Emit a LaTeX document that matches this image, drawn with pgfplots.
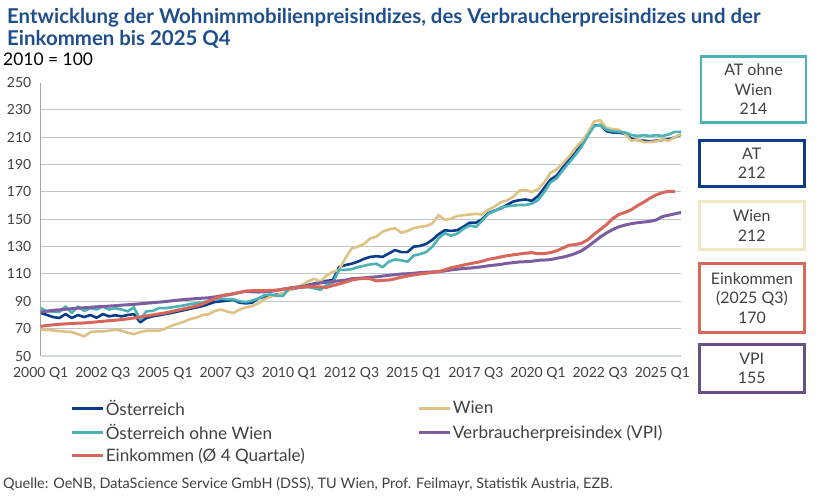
\documentclass[border=0pt]{standalone}
\usepackage{pgfplots}
\usepackage{pgfplotstable}
\pgfplotsset{compat=1.18}
\usepackage{fontspec}
\setmainfont{Lato}

\definecolor{titleblue}{RGB}{31,78,141}
\definecolor{textgray}{RGB}{64,64,64}
\definecolor{gridgray}{RGB}{190,198,204}
\definecolor{axisgray}{RGB}{166,166,166}
\definecolor{atblue}{RGB}{10,60,140}
\definecolor{wientan}{RGB}{222,194,132}
\definecolor{wienbox}{RGB}{243,230,196}
\definecolor{ohneteal}{RGB}{75,179,181}
\definecolor{vpipurple}{RGB}{123,94,160}
\definecolor{ekred}{RGB}{217,102,90}

% i = quarter index, 0 = 2000 Q1
\pgfplotstableread{
i at wien ohne vpi ek
0 81.5 69.3 85.0 82.2 71.7
1 80.0 69.0 82.7 82.8 72.3
2 78.5 68.7 82.5 83.4 72.8
3 77.8 68.3 82.2 83.8 73.2
4 80.7 67.8 86.3 84.2 73.5
5 77.8 67.5 81.5 84.6 73.8
6 80.0 66.0 86.3 85.0 74.0
7 78.5 64.4 83.0 85.3 74.2
8 80.0 67.5 85.0 85.6 74.5
9 78.0 68.0 84.0 86.0 75.0
10 80.7 68.0 86.3 86.2 75.4
11 79.0 68.5 84.0 86.5 75.8
12 79.8 69.3 85.0 86.8 76.2
13 79.0 68.5 84.0 87.2 76.6
14 80.0 67.0 82.7 87.5 77.2
15 80.7 66.0 85.6 87.8 77.8
16 74.6 67.5 76.6 88.2 78.5
17 77.8 68.5 82.7 88.6 79.3
18 79.0 68.5 83.0 89.0 80.0
19 79.8 68.5 85.0 89.4 80.8
20 80.7 70.0 85.0 89.8 81.5
21 81.5 72.0 85.5 90.3 82.5
22 82.5 73.5 86.3 90.8 83.5
23 83.5 75.0 87.0 91.3 84.5
24 84.5 77.0 88.0 91.6 85.5
25 85.5 78.0 88.5 92.0 86.5
26 86.5 80.0 89.0 92.3 88.0
27 88.0 80.5 90.5 92.6 90.0
28 89.5 83.0 91.5 93.2 92.0
29 90.0 84.0 92.0 94.0 94.0
30 90.5 82.5 91.5 94.6 95.0
31 91.0 81.5 91.5 95.5 95.5
32 89.0 84.0 90.0 96.5 96.5
33 88.5 85.5 89.5 97.3 97.5
34 89.0 86.5 90.5 97.0 97.8
35 92.0 88.5 92.0 96.8 97.8
36 93.5 91.5 94.5 97.0 97.8
37 94.0 93.5 95.0 97.3 98.0
38 95.0 94.5 94.0 98.0 98.2
39 95.5 96.0 94.0 99.0 98.8
40 98.5 98.0 100.0 99.5 99.5
41 99.5 100.0 100.5 100.2 100.0
42 100.5 102.0 100.0 100.8 100.3
43 102.0 104.5 100.5 101.5 100.7
44 103.0 106.5 99.5 102.5 100.7
45 104.0 104.5 98.5 103.5 100.5
46 105.0 109.0 102.0 104.0 100.2
47 105.5 111.5 103.5 104.5 101.5
48 115.0 113.0 113.0 105.0 102.7
49 116.5 121.5 113.0 105.5 104.0
50 117.5 128.5 113.5 106.5 105.5
51 119.0 130.0 115.0 106.8 106.3
52 121.0 132.0 116.0 107.2 106.8
53 122.5 136.0 117.0 107.6 106.5
54 123.0 137.3 117.5 107.9 105.0
55 122.5 141.0 115.0 108.5 105.3
56 125.0 142.5 119.0 109.0 105.6
57 127.5 143.5 120.7 109.5 106.5
58 126.0 140.2 120.0 110.0 107.6
59 126.0 141.5 119.0 110.2 108.5
60 130.0 143.5 123.5 110.5 109.3
61 130.5 144.5 124.5 111.0 110.0
62 132.0 145.0 126.0 111.3 110.5
63 135.0 147.0 130.0 111.5 111.2
64 139.0 153.0 136.0 111.8 111.7
65 142.0 149.5 139.8 112.2 113.0
66 141.5 150.5 138.0 113.0 114.5
67 142.0 152.4 139.5 113.5 115.5
68 144.5 153.0 143.0 114.0 116.5
69 147.5 153.5 145.5 114.3 117.5
70 147.5 154.0 144.5 114.8 118.3
71 150.0 153.5 149.0 115.3 119.3
72 154.5 157.0 154.0 116.0 120.7
73 156.3 159.3 156.0 116.5 121.5
74 158.0 162.5 158.5 117.0 122.5
75 160.5 163.7 159.5 117.8 123.3
76 163.0 166.5 160.0 118.3 124.0
77 164.0 171.0 160.5 118.8 124.6
78 164.5 171.5 160.5 119.0 125.2
79 163.5 170.0 161.5 119.3 125.6
80 167.0 172.0 164.0 120.0 124.8
81 173.0 177.0 170.0 120.2 125.0
82 179.0 184.0 177.0 120.5 125.6
83 182.0 186.5 180.0 121.5 127.0
84 188.0 191.0 186.0 122.3 129.0
85 193.5 196.0 191.5 123.5 131.0
86 198.5 202.0 197.0 125.0 131.5
87 205.0 207.0 203.0 127.0 132.5
88 212.0 213.0 211.0 130.0 135.0
89 218.5 221.5 218.0 133.5 139.0
90 219.0 222.5 219.0 137.0 142.5
91 214.5 217.0 215.5 140.0 146.0
92 213.5 216.0 214.5 142.5 150.5
93 213.5 215.5 214.0 144.5 153.5
94 212.5 212.5 213.5 145.8 155.0
95 209.0 207.5 211.7 146.8 157.0
96 208.0 208.5 211.0 147.5 160.0
97 207.5 206.5 211.5 148.0 162.5
98 207.0 206.5 211.0 148.5 165.5
99 207.5 207.0 211.5 149.5 167.8
100 208.0 208.5 211.0 152.0 169.5
101 208.5 207.5 212.0 153.0 170.5
102 210.0 210.0 214.0 154.0 170.5
103 212.0 212.4 214.0 155.0 nan
}\preisdaten

\begin{document}
\begin{tikzpicture}
\useasboundingbox (0,0) rectangle (824bp,-501bp);

\node[anchor=base west, inner sep=0, font=\bfseries\fontsize{20.5}{24}\selectfont, text=titleblue]
  at (7bp,-23bp) {Entwicklung der Wohnimmobilienpreisindizes, des Verbraucherpreisindizes und der};
\node[anchor=base west, inner sep=0, font=\bfseries\fontsize{20.5}{24}\selectfont, text=titleblue]
  at (7bp,-45bp) {Einkommen bis 2025 Q4};
\node[anchor=base west, inner sep=0, font=\fontsize{17.5}{20}\selectfont, text=black]
  at (3bp,-65bp) {2010 = 100};

\begin{axis}[
  at={(40.7bp,-356bp)}, anchor=south west,
  scale only axis, width=640.3bp, height=273.4bp,
  xmin=0, xmax=103, ymin=50, ymax=250,
  axis x line=bottom, axis y line=left,
  axis line style={-},
  x axis line style={draw=gridgray!70, line width=1.2bp},
  y axis line style={draw=axisgray, line width=0.8bp},
  xtick={0,10,...,100},
  xticklabels={2000 Q1,2002 Q3,2005 Q1,2007 Q3,2010 Q1,2012 Q3,2015 Q1,2017 Q3,2020 Q1,2022 Q3,2025 Q1},
  ytick={70,90,...,230},
  extra y ticks={50,250},
  extra y tick style={grid=none},
  ymajorgrids,
  major grid style={draw=gridgray, line width=1bp},
  major tick length=0pt,
  tick label style={font=\fontsize{14}{16}\selectfont, text=textgray},
  /pgf/number format/assume math mode=true,
  yticklabel style={xshift=-6bp},
  xticklabel style={yshift=-8bp},
  no markers,
  every axis plot/.append style={line join=round},
  legend columns=2,
  legend cell align=left,
  legend image code/.code={\draw[#1] (0bp,0bp) -- (31bp,0bp);},
  legend style={at={(0.042,-0.147)}, anchor=north west, draw=none, fill=none,
    font=\fontsize{17.2}{20}\selectfont, text=textgray,
    nodes={inner xsep=1bp, inner ysep=1.5bp},
    row sep=4.5bp,
    /tikz/every even column/.append style={column sep=112bp}},
]
\addplot[atblue, line width=2.6bp] table[x=i, y=at] {\preisdaten};
\addlegendentry{Österreich}
\addplot[wientan, line width=2.6bp] table[x=i, y=wien] {\preisdaten};
\addlegendentry{Wien}
\addplot[ohneteal, line width=2.6bp] table[x=i, y=ohne] {\preisdaten};
\addlegendentry{Österreich ohne Wien}
\addplot[vpipurple, line width=3bp] table[x=i, y=vpi] {\preisdaten};
\addlegendentry{Verbraucherpreisindex (VPI)}
\addplot[ekred, line width=3bp] table[x=i, y=ek] {\preisdaten};
\addlegendentry{Einkommen (Ø 4 Quartale)}
\end{axis}

\tikzset{wert/.style={draw=#1, line width=2.8bp, minimum width=105bp, align=center,
  inner sep=0, font=\fontsize{16}{19.5}\selectfont, text=textgray}}
\node[wert=ohneteal, minimum height=66bp] at (753.5bp,-89.5bp) {AT ohne\\Wien\\214};
\node[wert=atblue, minimum height=46bp] at (751.7bp,-163.5bp) {AT\\212};
\node[wert=wienbox, minimum height=48bp] at (751.7bp,-225.5bp) {Wien\\212};
\node[wert=ekred, minimum height=69bp] at (752bp,-298bp) {Einkommen\\(2025 Q3)\\170};
\node[wert=vpipurple!85!black, minimum height=48bp] at (751.7bp,-368.5bp) {VPI\\155};

\node[anchor=base west, inner sep=0, font=\fontsize{14.5}{17}\selectfont, text=textgray]
  at (3bp,-488bp) {Quelle: OeNB, DataScience Service GmbH (DSS), TU Wien, Prof. Feilmayr, Statistik Austria, EZB.};
\end{tikzpicture}
\end{document}
